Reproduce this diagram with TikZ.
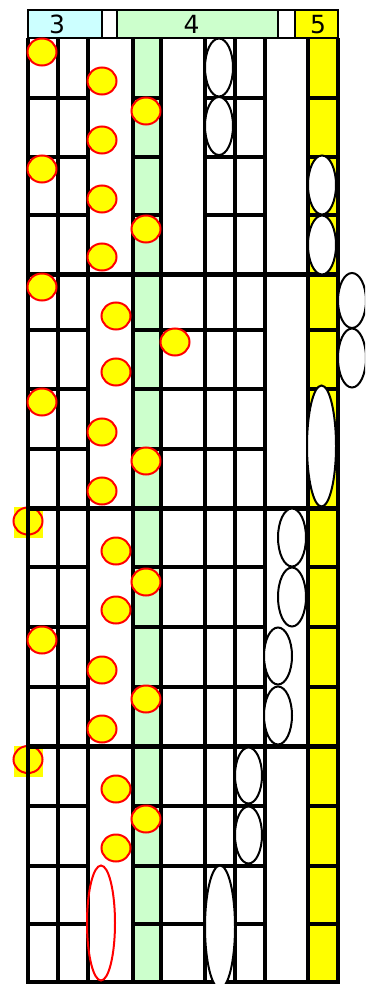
\documentclass[tikz,border=0pt]{standalone}
\usepackage{fontspec}
\setmainfont{DejaVu Sans}
\usetikzlibrary{shapes.geometric}
\definecolor{hdrcyan}{HTML}{CCFFFF}
\definecolor{colgreen}{HTML}{CCFFCC}
\definecolor{colyellow}{HTML}{FFFF00}
\begin{document}
\begin{tikzpicture}[x=1pt,y=-1pt,
  gridln/.style={line width=3.2pt},
  sysln/.style={line width=5pt},
  hdrln/.style={line width=2.8pt},
  lbl/.style={anchor=base, font=\fontsize{25}{25}\selectfont, inner sep=0pt},
  dot/.style={ellipse, draw=red, line width=2pt, fill=colyellow, minimum width=29pt, minimum height=27pt, inner sep=0pt},
  ring/.style={ellipse, draw=red, line width=2pt, minimum width=29pt, minimum height=27pt, inner sep=0pt},
  oval/.style={ellipse, draw=black, line width=2pt, fill=white, minimum width=28pt, inner sep=0pt},
  redoval/.style={ellipse, draw=red, line width=2pt, minimum width=28pt, inner sep=0pt}
]
\useasboundingbox (0,0) rectangle (365,984);
\clip (0,0) rectangle (365,984);
\fill[white] (0,0) rectangle (365,984);

% column fills
\fill[colgreen] (133,38) rectangle (161,984);
\fill[colyellow] (308,38) rectangle (338,984);

% header
\fill[hdrcyan] (28,10) rectangle (102,38);
\fill[colgreen] (117,10) rectangle (278,38);
\fill[colyellow] (295,10) rectangle (338,38);
\draw[hdrln] (28,10) rectangle (338,38);
\foreach \hx in {102,117,278,295} \draw[hdrln] (\hx,10) -- (\hx,38);
\node[lbl] (h3) at (57,34) {3};
\node[lbl] (h4) at (191.5,34) {4};
\node[lbl] (h5) at (318,34) {5};

% marks behind the grid
\fill[colyellow] (14,507) rectangle (43,538);
\node[ring] (r3) at (28,521) {};
\fill[colyellow] (14,746) rectangle (43,777);
\node[ring] (r4) at (28,759.5) {};

% vertical lines
\foreach \vx in {28,58,88,133,161,205,235,265,308,338}
  \draw[gridln] (\vx,38) -- (\vx,983);

% row lines, system 1
\foreach \ry in {98,157,215} {
  \draw[gridln] (28,\ry) -- (88,\ry);
  \draw[gridln] (133,\ry) -- (161,\ry);
  \draw[gridln] (205,\ry) -- (265,\ry);
  \draw[gridln] (308,\ry) -- (338,\ry);
}
% row lines, systems 2-4
\foreach \ry in {330,389,449,567,627,687,806,866,924} {
  \draw[gridln] (28,\ry) -- (88,\ry);
  \draw[gridln] (133,\ry) -- (265,\ry);
  \draw[gridln] (308,\ry) -- (338,\ry);
}
% system separators
\foreach \sy in {274,508,746} \draw[sysln] (26,\sy) -- (340,\sy);
\draw[line width=4pt] (26,982) -- (340,982);

% yellow dots, system 1
\node[dot] (a1) at (42,52) {};
\node[dot] (a2) at (102,81) {};
\node[dot] (a3) at (146,111) {};
\node[dot] (a4) at (102,140) {};
\node[dot] (a5) at (42,169) {};
\node[dot] (a6) at (102,199) {};
\node[dot] (a7) at (146,229) {};
\node[dot] (a8) at (102,257) {};
% system 2
\node[dot] (b1) at (42,287) {};
\node[dot] (b2) at (116,316) {};
\node[dot] (b3) at (175,342) {};
\node[dot] (b4) at (116,372) {};
\node[dot] (b5) at (42,402) {};
\node[dot] (b6) at (102,432) {};
\node[dot] (b7) at (146,461) {};
\node[dot] (b8) at (102,491) {};
% system 3
\node[dot] (c2) at (116,551) {};
\node[dot] (c3) at (146,582) {};
\node[dot] (c4) at (116,610) {};
\node[dot] (c5) at (42,640) {};
\node[dot] (c6) at (102,670) {};
\node[dot] (c7) at (146,699) {};
\node[dot] (c8) at (102,729) {};
% system 4
\node[dot] (d2) at (116,789) {};
\node[dot] (d3) at (146,819) {};
\node[dot] (d4) at (116,848) {};
\node[redoval, minimum height=115pt] (d5) at (101,923) {};

% white ovals
\node[oval, minimum height=58pt] (e1) at (219,67.5) {};
\node[oval, minimum height=58pt] (e2) at (219,126) {};
\node[oval, minimum height=59pt] (e3) at (322,185) {};
\node[oval, minimum height=59pt] (e4) at (322,245) {};
\node[oval, minimum height=55pt] (f1) at (352,300.5) {};
\node[oval, minimum height=59pt] (f2) at (352,358) {};
\node[oval, minimum width=29pt, minimum height=121pt] (f3) at (321.5,446) {};
\node[oval, minimum height=58pt] (g1) at (292,537.5) {};
\node[oval, minimum height=59pt] (g2) at (292,597) {};
\node[oval, minimum height=57pt] (g3) at (278,656) {};
\node[oval, minimum height=58pt] (g4) at (278,715.5) {};
\node[oval, minimum width=27pt, minimum height=56pt] (k1) at (248.5,775.5) {};
\node[oval, minimum width=27pt, minimum height=57pt] (k2) at (248.5,835) {};
\node[oval, minimum width=30pt, minimum height=123pt] (k3) at (220,927) {};
\end{tikzpicture}
\end{document}
